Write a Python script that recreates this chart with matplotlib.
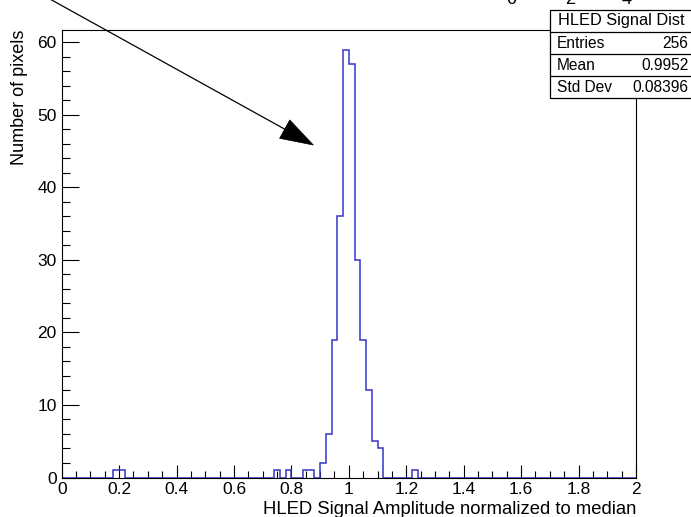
import numpy as np
import matplotlib
matplotlib.use("Agg")
import matplotlib.pyplot as plt
from matplotlib.patches import Rectangle, Polygon
from matplotlib.lines import Line2D
from matplotlib.ticker import MultipleLocator

plt.rcParams['font.family'] = ['Liberation Sans', 'DejaVu Sans']

# ---- data (100 bins from 0 to 2) ----
x_min, x_max, n_bins = 0.0, 2.0, 100
filled_bins = [9, 10, 37, 39, 42, 43, 45, 46, 47, 48, 49, 50, 51, 52, 53, 54, 55, 61]
filled_counts = [1, 1, 1, 1, 1, 1, 2, 6, 19, 36, 59, 57, 30, 19, 12, 5, 4, 1]
stats_title = "HLED Signal Dist"
stats_names = ["Entries", "Mean", "Std Dev"]
stats_values = ["256", "0.9952", "0.08396"]
x_title = "HLED Signal Amplitude normalized to median"
y_title = "Number of pixels"
top_labels = ["0", "2", "4"]

counts = np.zeros(n_bins)
counts[filled_bins] = filled_counts
edges = np.linspace(x_min, x_max, n_bins + 1)

W, H = 691, 517
fig = plt.figure(figsize=(W / 100, H / 100), dpi=100)

def fx(px):
    return px / W

def fy(py):
    return 1 - py / H

ax_l, ax_r, ax_t, ax_b = 61.7, 636.0, 30.0, 477.5
ax = fig.add_axes([fx(ax_l), fy(ax_b), fx(ax_r - ax_l), (ax_b - ax_t) / H])

hist_color = '#3434c8'
ax.stairs(counts, edges, color=hist_color, linewidth=1.1, zorder=2)

ax.set_xlim(x_min, x_max)
ax.set_ylim(0, 61.7)

ax.xaxis.set_major_locator(MultipleLocator(0.2))
ax.xaxis.set_minor_locator(MultipleLocator(0.05))
ax.yaxis.set_major_locator(MultipleLocator(10))
ax.yaxis.set_minor_locator(MultipleLocator(2))
ax.xaxis.set_major_formatter(plt.FuncFormatter(lambda v, p: f"{v:g}"))

ax.tick_params(axis='x', which='major', direction='in', length=9.4, width=0.8, labelsize=12.5, pad=3.5)
ax.tick_params(axis='x', which='minor', direction='in', length=5, width=0.8)
ax.tick_params(axis='y', which='major', direction='in', length=12.2, width=0.8, labelsize=12.5, pad=3.5)
ax.tick_params(axis='y', which='minor', direction='in', length=5.8, width=0.8)
ax.tick_params(top=False, right=False)

for s in ax.spines.values():
    s.set_linewidth(0.8)
    s.set_zorder(3)

# axis titles
fig.text(fx(636.5), fy(514), x_title, ha='right', va='baseline', fontsize=13.3)
fig.text(fx(19.7), fy(30), y_title, ha='center', va='top', rotation=90, fontsize=13)

# cut-off labels at the very top (partly outside the picture, as in the reference)
for lab, px in zip(top_labels, [511.7, 570.0, 626.7]):
    fig.text(fx(px), fy(3.5), lab, ha='center', va='baseline', fontsize=13)

# stats box
box_l, box_r, box_t, row_h = 549.5, 694.0, 10.0, 22.0
n_rows = 1 + len(stats_names)
fig.add_artist(Rectangle((fx(box_l), fy(box_t + n_rows * row_h)), fx(box_r - box_l), n_rows * row_h / H,
                         transform=fig.transFigure, facecolor='white', edgecolor='black',
                         linewidth=0.9, zorder=5))
for i in range(1, n_rows):
    yy = box_t + i * row_h
    fig.add_artist(Line2D([fx(box_l), fx(box_r)], [fy(yy), fy(yy)], transform=fig.transFigure,
                          color='black', linewidth=0.9, zorder=6))
fig.text(fx((box_l + box_r) / 2), fy(box_t + row_h / 2), stats_title, ha='center', va='center',
         fontsize=11.8, zorder=7)
for i, (nm, val) in enumerate(zip(stats_names, stats_values)):
    yc = box_t + (i + 1.5) * row_h
    fig.text(fx(557), fy(yc), nm, ha='left', va='center', fontsize=11.2, zorder=7)
    fig.text(fx(688.5), fy(yc), val, ha='right', va='center', fontsize=11.2, zorder=7)

# arrow
tip = np.array([313.3, 145.0])
p0 = np.array([51.7, 0.0])
d = (tip - p0) / np.linalg.norm(tip - p0)
start = p0 - d * 60
head_len, head_w = 32.7, 21.0
base = tip - d * head_len
nrm = np.array([-d[1], d[0]])
fig.add_artist(Line2D([fx(start[0]), fx(base[0])], [fy(start[1]), fy(base[1])],
                      transform=fig.transFigure, color='black', linewidth=0.9, zorder=8))
c1 = base + nrm * head_w / 2
c2 = base - nrm * head_w / 2
fig.add_artist(Polygon([[fx(tip[0]), fy(tip[1])], [fx(c1[0]), fy(c1[1])], [fx(c2[0]), fy(c2[1])]],
                       closed=True, transform=fig.transFigure, facecolor='black', edgecolor='black',
                       linewidth=0.5, zorder=8))

fig.savefig("out.png", dpi=100)
